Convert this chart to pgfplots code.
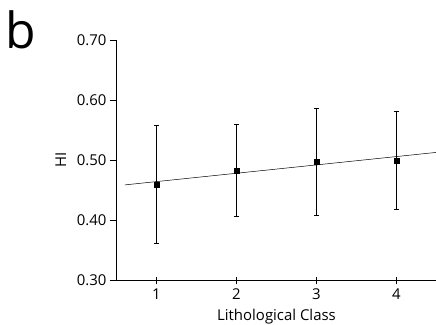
\documentclass[border=0pt]{standalone}
\usepackage{fontspec}
\setmainfont{Open Sans}
\usepackage{pgfplots}
\pgfplotsset{compat=1.18}
\begin{document}
\begin{tikzpicture}[x=1bp,y=1bp]
\path[use as bounding box] (0,0) rectangle (436,324);
\node[anchor=base west,inner sep=0pt,font=\fontsize{50}{50}\selectfont] at (5,276) {b};
\begin{axis}[
  at={(116.5bp,43.5bp)}, anchor=south west,
  scale only axis, width=320bp, height=240.5bp,
  xmin=0.5, xmax=4.5, ymin=0.30, ymax=0.70,
  axis x line*=bottom, axis y line*=left,
  axis line style={-, line width=0.8pt},
  xtick={1,2,3,4}, ytick={0.3,0.4,0.5,0.6,0.7},
  yticklabel style={/pgf/number format/fixed, /pgf/number format/fixed zerofill, /pgf/number format/precision=2, xshift=0.5bp},
  /pgf/number format/assume math mode=true,
  ticklabel style={font=\fontsize{15}{17}\selectfont},
  xtick align=center, ytick align=outside,
  xtick style={line width=0.6pt, black},
  ytick style={line width=0.6pt, black},
  major tick length=7bp,
  xticklabel style={yshift=-1bp},
  xlabel={Lithological Class}, ylabel={HI},
  label style={font=\fontsize{15}{17}\selectfont},
  xlabel style={yshift=-3bp},
  ylabel style={yshift=4bp},
  clip=true,
]
\addplot[black, line width=0.5pt] coordinates {(0.604,0.4590) (4.5,0.5131)};
\addplot[only marks, mark=square*, mark size=2.5pt, black,
  error bars/.cd, y dir=both, y explicit, error bar style={line width=0.6pt}, error mark options={rotate=90, mark size=2.5pt, line width=0.6pt}]
  coordinates {
  (1,0.460) +- (0,0.098)
  (2,0.483) +- (0,0.076)
  (3,0.497) +- (0,0.089)
  (4,0.500) +- (0,0.082)
};
\end{axis}
\end{tikzpicture}
\end{document}
